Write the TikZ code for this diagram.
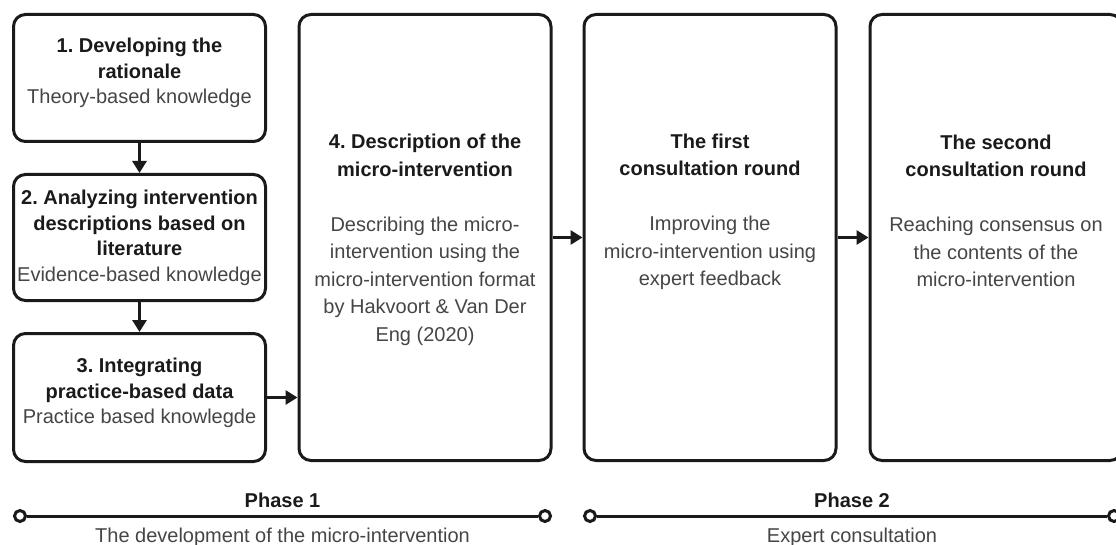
\documentclass[tikz,border=0pt]{standalone}
\usepackage{fontspec}
\setmainfont{Liberation Sans}
\usetikzlibrary{arrows.meta}
\usetikzlibrary{calc}
\definecolor{inkline}{HTML}{1A1A1A}
\definecolor{inktext}{HTML}{454545}
\newcommand{\steptitle}[1]{\textbf{\textcolor{inkline}{#1}}}
\frenchspacing

\begin{document}
\begin{tikzpicture}[x=1pt,y=-1pt,line width=3pt,
stepbox/.style={draw=inkline,rectangle,rounded corners=12pt,inner sep=0pt,minimum width=252pt},
steptext/.style={align=center,inner sep=0pt,text=inktext,font=\fontsize{20}{25.5}\selectfont},
widetext/.style={align=center,inner sep=0pt,text=inktext,font=\fontsize{20}{27.5}\selectfont},
flow/.style={draw=inkline,-{Triangle[length=12pt,width=14pt]}},
milestone/.style={circle,draw=inkline,fill=white,line width=3pt,inner sep=0pt,minimum size=11pt},
phasehead/.style={anchor=base,inner sep=0pt,text=inkline,font=\fontsize{20}{24}\selectfont\bfseries},
phasesub/.style={anchor=base,inner sep=0pt,text=inktext,font=\fontsize{20}{24}\selectfont}]

\useasboundingbox (0,0) rectangle (1116,545);

% steps of phase 1
\draw (139.5,78) node[stepbox,minimum height=127pt] (B1) {};
\draw (139.5,237.5) node[stepbox,minimum height=126pt] (B2) {};
\draw (139.5,397.5) node[stepbox,minimum height=128pt] (B3) {};
\draw (425,237.5) node[stepbox,minimum height=446pt] (B4) {};
% phase 2
\draw (710,237.5) node[stepbox,minimum height=446pt] (B5) {};
\draw (996,237.5) node[stepbox,minimum height=446pt] (B6) {};

\node[steptext] (T1) at (139.5,73) {\steptitle{1. Developing the}\\\steptitle{rationale}\\Theory-based knowledge};
\node[steptext] (T2) at (139.5,238) {\steptitle{2. Analyzing intervention}\\\steptitle{descriptions based on}\\\steptitle{literature}\\Evidence-based knowledge};
\node[steptext] (T3) at (139.5,393) {\steptitle{3. Integrating}\\\steptitle{practice-based data}\\Practice based knowlegde};
\node[widetext] (T4) at (425,240) {\steptitle{4. Description of the}\\\steptitle{micro-intervention}\\[27.5pt]Describing the micro-\\intervention using the\\micro-intervention format\\by Hakvoort \& Van Der\\Eng (2020)};
\node[widetext] (T5) at (710,212) {\steptitle{The first}\\\steptitle{consultation round}\\[27.5pt]Improving the\\micro-intervention using\\expert feedback};
\node[widetext] (T6) at (996,211) {\steptitle{The second}\\\steptitle{consultation round}\\[27.5pt]Reaching consensus on\\the contents of the\\micro-intervention};

\draw[flow] (B1.south) -- (B2.north);
\draw[flow] (B2.south) -- (B3.north);
\draw[flow] (B3.east) -- (B3.east -| B4.west);
\draw[flow] (B4.east) -- (B5.west);
\draw[flow] (B5.east) -- (B6.west);

% timeline
\draw (20,516) node[milestone] (P1a) {};
\draw (545,516) node[milestone] (P1b) {};
\draw (590,516) node[milestone] (P2a) {};
\draw (1114,516) node[milestone] (P2b) {};
\draw[inkline] (P1a) -- (P1b);
\draw[inkline] (P2a) -- (P2b);
\coordinate (P1m) at ($(P1a)!0.5!(P1b)$);
\coordinate (P2m) at ($(P2a)!0.5!(P2b)$);
\node[phasehead] (H1) at ([yshift=9pt]P1m) {Phase 1};
\node[phasesub] (S1) at ([yshift=-26pt]P1m) {The development of the micro-intervention};
\node[phasehead] (H2) at ([yshift=9pt]P2m) {Phase 2};
\node[phasesub] (S2) at ([yshift=-26pt]P2m) {Expert consultation};

\end{tikzpicture}
\end{document}
